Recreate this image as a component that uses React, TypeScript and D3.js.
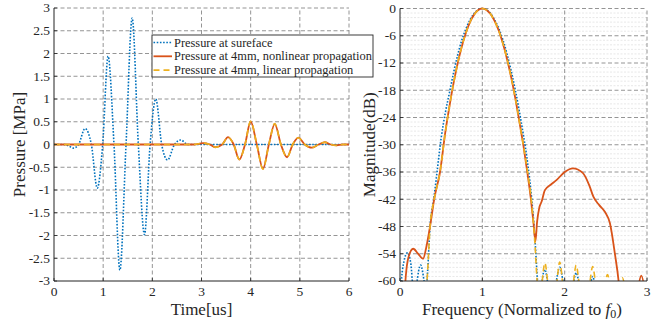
import React from "react";
import * as d3 from "d3";

// ---------- Data: time domain (left) ----------
const tSurface = [0, 0.2, 0.3, 0.39, 0.5, 0.63, 0.76, 0.88, 0.99, 1.1, 1.22, 1.34, 1.465, 1.59, 1.715, 1.84, 1.955, 2.07, 2.19, 2.31, 2.45, 2.58, 2.72, 2.9, 6];
const pSurface = [0, 0, -0.03, -0.08, 0, 0.35, 0, -0.96, 0, 1.94, 0, -2.76, 0, 2.78, 0, -1.98, 0, 1.0, 0, -0.34, 0, 0.1, 0, 0, 0];

const t4mm = [0, 2.85, 3.03, 3.17, 3.28, 3.42, 3.54, 3.655, 3.77, 3.885, 4.0, 4.125, 4.25, 4.37, 4.49, 4.615, 4.74, 4.855, 4.97, 5.1, 5.24, 5.38, 5.51, 5.63, 5.75, 5.87, 6];
const pNonlinear = [0, 0, 0.03, 0, -0.06, 0, 0.16, 0, -0.33, 0, 0.505, 0, -0.535, 0, 0.455, 0, -0.28, 0, 0.15, 0, -0.07, 0, 0.05, 0, -0.02, 0, 0];
const pLinear = [0, 0, 0.03, 0, -0.06, 0, 0.16, 0, -0.33, 0, 0.51, 0, -0.54, 0, 0.46, 0, -0.28, 0, 0.15, 0, -0.07, 0, 0.05, 0, -0.02, 0, 0];

// ---------- Data: spectra (right) ----------
const fSurface = [0, 0.01, 0.05, 0.09, 0.13, 0.16, 0.18, 0.2, 0.25, 0.3, 0.315, 0.335, 0.365, 0.41, 0.45, 0.5, 0.55, 0.6, 0.65, 0.7, 0.75, 0.8, 0.85, 0.9, 0.95, 1.0, 1.05, 1.1, 1.15, 1.2, 1.25, 1.3, 1.35, 1.4, 1.45, 1.5, 1.55, 1.6, 1.64, 1.67, 1.7, 1.72, 1.76, 1.8, 1.85, 1.89, 1.94, 1.99, 2.05, 2.1, 2.14, 2.18, 2.25, 2.31, 2.34, 2.37, 2.45, 3.0];
const dbSurface = [-75, -62, -55.5, -53.8, -56, -62, -64, -61, -56.5, -61, -63, -58, -48, -42, -36, -28.5, -23, -18.6, -14.2, -10.3, -7.0, -4.5, -2.5, -1.1, -0.28, 0, -0.27, -1.1, -2.5, -4.4, -6.9, -10.0, -13.7, -17.9, -22.7, -28, -34, -42, -51, -60, -66, -61, -57.5, -61, -66, -61, -57, -61, -66, -61, -58.2, -61, -66, -61, -59, -61, -68, -75];

const fNonlinear = [0, 0.04, 0.07, 0.1, 0.16, 0.22, 0.28, 0.32, 0.365, 0.415, 0.486, 0.55, 0.6, 0.65, 0.7, 0.75, 0.8, 0.85, 0.9, 0.95, 1.0, 1.05, 1.1, 1.15, 1.2, 1.25, 1.3, 1.35, 1.4, 1.45, 1.5, 1.55, 1.59, 1.62, 1.645, 1.665, 1.69, 1.72, 1.76, 1.83, 1.9, 2.0, 2.1, 2.22, 2.3, 2.35, 2.42, 2.49, 2.55, 2.61, 2.655, 2.7, 2.8, 2.88, 2.93, 2.98, 3.0];
const dbNonlinear = [-80, -68, -59, -55, -52.9, -54, -55.1, -52.5, -48, -42, -36, -27.3, -21.6, -16.5, -12.1, -8.4, -5.4, -3.0, -1.35, -0.34, 0, -0.31, -1.23, -2.8, -4.9, -7.7, -11.1, -15.1, -19.7, -24.9, -30.3, -36.5, -42, -47, -51.3, -47, -44, -42.5, -40, -38.8, -37.8, -36, -35.2, -36.2, -39, -41.5, -43.3, -44.8, -47.3, -54, -60, -70, -72, -63, -58.8, -63, -66];

const fLinear = [0.25, 0.3, 0.335, 0.365, 0.415, 0.486, 0.55, 0.6, 0.65, 0.7, 0.75, 0.8, 0.85, 0.9, 0.95, 1.0, 1.05, 1.1, 1.15, 1.2, 1.25, 1.3, 1.35, 1.4, 1.45, 1.5, 1.55, 1.6, 1.64, 1.665, 1.69, 1.72, 1.76, 1.8, 1.85, 1.9, 1.94, 1.98, 2.04, 2.1, 2.14, 2.18, 2.24, 2.3, 2.34, 2.38, 2.44, 2.48, 2.52, 2.56, 2.62, 2.66, 2.7, 2.74, 2.8, 3.0];
const dbLinear = [-75, -66, -58, -48, -42, -36, -27.3, -21.6, -16.5, -12.1, -8.4, -5.4, -3.0, -1.35, -0.34, 0, -0.31, -1.23, -2.8, -4.9, -7.7, -11.1, -15.1, -19.7, -24.9, -30.3, -36, -43, -52, -60, -64, -61, -56, -61, -65, -61, -55.8, -61, -65, -61, -56.5, -61, -65, -61, -56.8, -61, -65, -61.5, -58.6, -61.5, -65, -62, -59.3, -62, -66, -70];

// ---------- Ticks / labels ----------
const timeTicks = [0, 1, 2, 3, 4, 5, 6];
const pressureTicks = [3, 2.5, 2, 1.5, 1, 0.5, 0, -0.5, -1, -1.5, -2, -2.5, -3];
const freqTicks = [0, 1, 2, 3];
const dbTicks = [0, -6, -12, -18, -24, -30, -36, -42, -48, -54, -60];
const dbMinor = d3.range(-59, 0).filter((v) => v % 6 !== 0);
const legendLabels = [
  "Pressure at sureface",
  "Pressure at 4mm, nonlinear propagation",
  "Pressure at 4mm, linear propagation",
];

const BLUE = "#0072BD";
const ORANGE = "#D95319";
const YELLOW = "#EDB120";
const FONT = "'Liberation Serif', 'Times New Roman', serif";
const GRID = "#7a7a7a";

function zip(xs: number[], ys: number[]): [number, number][] {
  return xs.map((x, i) => [x, ys[i]]);
}

export default function App() {
  const W = 656, H = 321;
  const xL = d3.scaleLinear().domain([0, 6]).range([54, 349]);
  const yL = d3.scaleLinear().domain([-3, 3]).range([281, 8]);
  const xR = d3.scaleLinear().domain([0, 3]).range([400, 647]);
  const yR = d3.scaleLinear().domain([-60, 0]).range([281, 8.5]);

  const lineL = d3.line<[number, number]>().x((d) => xL(d[0])).y((d) => yL(d[1])).curve(d3.curveMonotoneX);
  const lineR = d3.line<[number, number]>().x((d) => xR(d[0])).y((d) => yR(d[1])).curve(d3.curveMonotoneX);

  const tickFs = 13.5;
  const labelFs = 17;

  return (
    <svg width={W} height={H} style={{ position: "absolute", left: 0, top: 0, background: "#fff" }} fontFamily={FONT}>
      <defs>
        <clipPath id="clipR">
          <rect x={400} y={6} width={248} height={275} />
        </clipPath>
      </defs>
      <rect x={0} y={0} width={W} height={H} fill="#fff" />

      {/* ---------- LEFT PANEL ---------- */}
      <g>
        {timeTicks.filter((t) => t !== 0).map((t) => (
          <line key={"gx" + t} x1={xL(t)} x2={xL(t)} y1={yL(-3)} y2={yL(3)} stroke={GRID} strokeWidth={0.8} strokeDasharray="4 2.5" />
        ))}
        {pressureTicks.filter((p) => p !== -3).map((p) => (
          <line key={"gy" + p} x1={xL(0)} x2={xL(6)} y1={yL(p)} y2={yL(p)} stroke={GRID} strokeWidth={0.8} strokeDasharray="4 2.5" />
        ))}
        <path d={lineL(zip(tSurface, pSurface)) || ""} fill="none" stroke={BLUE} strokeWidth={1.6} strokeDasharray="1.6 1.6" />
        <path d={lineL(zip(t4mm, pNonlinear)) || ""} fill="none" stroke={ORANGE} strokeWidth={1.8} />
        <path d={lineL(zip(t4mm, pLinear)) || ""} fill="none" stroke={YELLOW} strokeWidth={1.6} strokeDasharray="6 4" />
        <line x1={xL(0)} x2={xL(0)} y1={yL(-3)} y2={yL(3)} stroke="#222" strokeWidth={1} />
        <line x1={xL(0)} x2={xL(6)} y1={yL(-3)} y2={yL(-3)} stroke="#222" strokeWidth={1} />
        {pressureTicks.map((p) => (
          <g key={"ty" + p}>
            <line x1={xL(0)} x2={xL(0) + 3} y1={yL(p)} y2={yL(p)} stroke="#222" strokeWidth={0.8} />
            <text x={xL(0) - 4} y={yL(p)} dy="0.33em" textAnchor="end" fontSize={tickFs} fill="#262626">{String(p)}</text>
          </g>
        ))}
        {timeTicks.map((t) => (
          <g key={"tx" + t}>
            <line x1={xL(t)} x2={xL(t)} y1={yL(-3)} y2={yL(-3) - 3} stroke="#222" strokeWidth={0.8} />
            <text x={xL(t)} y={296} textAnchor="middle" fontSize={tickFs} fill="#262626">{String(t)}</text>
          </g>
        ))}
        <text x={xL(3)} y={315} textAnchor="middle" fontSize={labelFs} fill="#262626">Time[us]</text>
        <text transform={`translate(25,${yL(0)}) rotate(-90)`} textAnchor="middle" fontSize={labelFs} fill="#262626">Pressure [MPa]</text>

        {/* legend */}
        <rect x={152} y={35} width={221} height={42} fill="#fff" stroke="#262626" strokeWidth={0.9} />
        {legendLabels.map((lab, i) => {
          const y = 42.5 + i * 13.8;
          const stroke = [BLUE, ORANGE, YELLOW][i];
          const dash = ["1.6 1.6", undefined, "6 4"][i];
          const sw = [1.6, 1.8, 1.6][i];
          return (
            <g key={"lg" + i}>
              <line x1={153.5} x2={172} y1={y} y2={y} stroke={stroke} strokeWidth={sw} strokeDasharray={dash} />
              <text x={174} y={y} dy="0.33em" fontSize={12.4} fill="#262626">{lab}</text>
            </g>
          );
        })}
      </g>

      {/* ---------- RIGHT PANEL ---------- */}
      <g>
        {dbMinor.map((v) => (
          <line key={"mn" + v} x1={xR(0)} x2={xR(3)} y1={yR(v)} y2={yR(v)} stroke="#d9d9d9" strokeWidth={0.6} strokeDasharray="2 1.5" />
        ))}
        {freqTicks.filter((f) => f !== 0).map((f) => (
          <line key={"gfx" + f} x1={xR(f)} x2={xR(f)} y1={yR(-60)} y2={yR(0)} stroke={GRID} strokeWidth={0.8} strokeDasharray="4 2.5" />
        ))}
        {dbTicks.filter((v) => v !== -60).map((v) => (
          <line key={"gdy" + v} x1={xR(0)} x2={xR(3)} y1={yR(v)} y2={yR(v)} stroke={GRID} strokeWidth={0.8} strokeDasharray="4 2.5" />
        ))}
        <g clipPath="url(#clipR)">
          <path d={lineR(zip(fSurface, dbSurface)) || ""} fill="none" stroke={BLUE} strokeWidth={1.6} strokeDasharray="1.6 1.6" />
          <path d={lineR(zip(fNonlinear, dbNonlinear)) || ""} fill="none" stroke={ORANGE} strokeWidth={1.8} />
          <path d={lineR(zip(fLinear, dbLinear)) || ""} fill="none" stroke={YELLOW} strokeWidth={1.6} strokeDasharray="6 4" />
        </g>
        <line x1={xR(0)} x2={xR(0)} y1={yR(-60)} y2={yR(0)} stroke="#222" strokeWidth={1} />
        <line x1={xR(0)} x2={xR(3)} y1={yR(-60)} y2={yR(-60)} stroke="#222" strokeWidth={1} />
        {dbTicks.map((v) => (
          <g key={"tdy" + v}>
            <line x1={xR(0)} x2={xR(0) + 3} y1={yR(v)} y2={yR(v)} stroke="#222" strokeWidth={0.8} />
            <text x={xR(0) - 4} y={yR(v)} dy="0.33em" textAnchor="end" fontSize={tickFs} fill="#262626">{String(v)}</text>
          </g>
        ))}
        {freqTicks.map((f) => (
          <g key={"tfx" + f}>
            <line x1={xR(f)} x2={xR(f)} y1={yR(-60)} y2={yR(-60) - 3} stroke="#222" strokeWidth={0.8} />
            <text x={xR(f)} y={296} textAnchor="middle" fontSize={tickFs} fill="#262626">{String(f)}</text>
          </g>
        ))}
        <text x={522} y={315} textAnchor="middle" fontSize={labelFs} fill="#262626">
          Frequency (Normalized to <tspan fontStyle="italic">f</tspan>
          <tspan fontSize={12} dy={3}>0</tspan>
          <tspan dy={-3}>)</tspan>
        </text>
        <text transform={`translate(375,${yR(-30)}) rotate(-90)`} textAnchor="middle" fontSize={labelFs} fill="#262626">Magnitude(dB)</text>
      </g>
    </svg>
  );
}
